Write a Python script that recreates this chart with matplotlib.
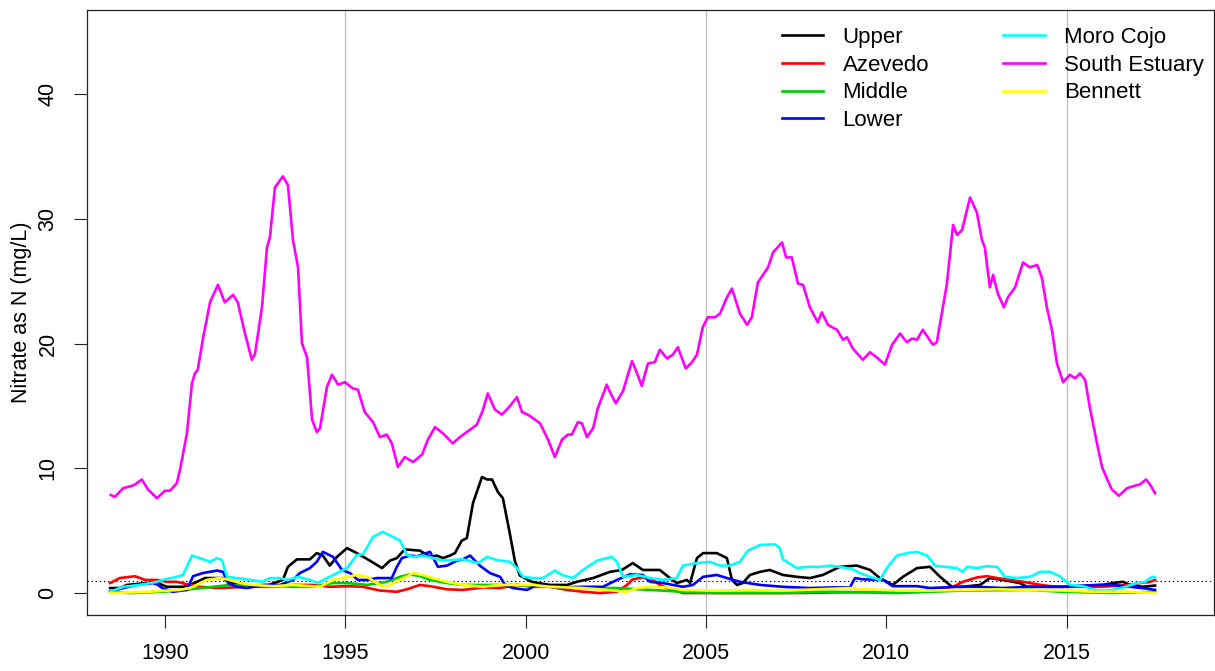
import matplotlib
matplotlib.use("Agg")
from matplotlib import pyplot as plt

plt.rcParams['font.family'] = ['Liberation Sans', 'DejaVu Sans']

# ---- data (year, nitrate mg/L) ----
upper_yr = [1988.48, 1988.75, 1988.95, 1989.50, 1989.78, 1989.92, 1990.06, 1990.50, 1990.69, 1990.89,
            1991.11, 1991.61, 1991.80, 1992.27, 1992.83, 1993.27, 1993.41, 1993.66, 1994.02, 1994.21,
            1994.38, 1994.57, 1994.77, 1995.05, 1995.32, 1995.68, 1996.02, 1996.24, 1996.43, 1996.65,
            1997.07, 1997.35, 1997.54, 1997.71, 1997.90, 1998.04, 1998.23, 1998.37, 1998.54, 1998.79,
            1998.93, 1999.07, 1999.23, 1999.37, 1999.56, 1999.70, 1999.84, 2000.17, 2000.67, 2001.15,
            2001.42, 2001.87, 2002.34, 2002.67, 2002.97, 2003.25, 2003.72, 2004.00, 2004.19, 2004.47,
            2004.56, 2004.75, 2004.92, 2005.30, 2005.58, 2005.72, 2005.86, 2006.02, 2006.22, 2006.50,
            2006.77, 2007.13, 2007.52, 2007.88, 2008.24, 2008.71, 2009.18, 2009.55, 2009.82, 2010.18,
            2010.46, 2010.85, 2011.21, 2011.49, 2011.82, 2012.12, 2012.60, 2012.87, 2013.23, 2013.70,
            2013.90, 2014.34, 2014.90, 2016.01, 2016.28, 2016.56, 2016.75, 2017.11, 2017.45]
upper = [0.4, 0.4, 0.65, 0.8, 0.9, 0.65, 0.5, 0.5, 0.65, 0.9,
         1.2, 1.2, 0.8, 0.6, 0.6, 1.05, 2.1, 2.7, 2.7, 3.2,
         3.0, 2.2, 2.9, 3.6, 3.2, 2.6, 2.0, 2.6, 2.8, 3.5,
         3.4, 2.9, 3.0, 2.8, 3.0, 3.2, 4.2, 4.4, 7.2, 9.3,
         9.1, 9.1, 8.1, 7.6, 4.8, 2.6, 1.4, 0.9, 0.65, 0.65,
         0.9, 1.2, 1.7, 1.85, 2.4, 1.85, 1.85, 1.2, 0.8, 1.05,
         0.8, 2.8, 3.2, 3.2, 2.8, 1.05, 0.65, 0.8, 1.45, 1.7,
         1.85, 1.45, 1.3, 1.2, 1.45, 2.1, 2.2, 1.85, 1.2, 0.65,
         1.3, 2.0, 2.1, 1.3, 0.5, 0.5, 0.65, 1.2, 1.05, 0.8,
         0.5, 0.5, 0.5, 0.65, 0.8, 0.9, 0.65, 0.5, 0.6]

azevedo_yr = [1988.48, 1988.75, 1989.17, 1989.45, 1989.78, 1990.06, 1990.33, 1990.69, 1990.97, 1991.52,
              1992.27, 1992.99, 1993.55, 1994.10, 1994.57, 1995.05, 1995.49, 1995.96, 1996.43, 1996.71,
              1997.07, 1997.35, 1997.82, 1998.26, 1998.82, 1999.29, 1999.76, 2000.20, 2000.67, 2001.15,
              2001.59, 2002.06, 2002.53, 2002.81, 2002.97, 2003.25, 2003.53, 2003.72, 2003.92, 2004.36,
              2004.92, 2005.75, 2006.69, 2007.60, 2008.52, 2009.82, 2010.93, 2011.85, 2012.12, 2012.51,
              2012.79, 2013.07, 2013.43, 2013.79, 2014.18, 2014.54, 2014.90, 2015.84, 2016.28, 2016.75,
              2017.03, 2017.31, 2017.45]
azevedo = [0.8, 1.2, 1.35, 1.05, 1.05, 0.9, 0.9, 0.65, 0.5, 0.4,
           0.5, 0.5, 0.65, 0.65, 0.5, 0.55, 0.5, 0.2, 0.1, 0.3,
           0.65, 0.55, 0.3, 0.25, 0.45, 0.4, 0.65, 0.5, 0.5, 0.25,
           0.1, 0.0, 0.1, 0.65, 1.1, 1.25, 1.05, 0.65, 0.4, 0.0,
           0.0, 0.0, 0.0, 0.0, 0.05, 0.1, 0.1, 0.5, 0.9, 1.25,
           1.35, 1.2, 1.05, 0.9, 0.7, 0.55, 0.5, 0.5, 0.55, 0.65,
           0.8, 0.9, 1.05]

middle_yr = [1988.48, 1989.03, 1989.94, 1990.69, 1991.33, 1991.80, 1992.27, 1992.83, 1993.55, 1994.10,
             1994.66, 1995.05, 1995.60, 1996.15, 1996.52, 1996.79, 1997.07, 1997.35, 1997.82, 1998.26,
             1998.82, 1999.76, 2000.67, 2001.59, 2002.53, 2003.45, 2004.36, 2005.30, 2006.22, 2007.13,
             2008.08, 2008.44, 2010.29, 2012.12, 2013.98, 2014.90, 2016.28, 2017.45]
middle = [0.1, 0.0, 0.1, 0.3, 0.5, 0.65, 0.55, 0.65, 0.5, 0.5,
          0.8, 0.8, 0.65, 0.9, 1.3, 1.5, 1.35, 1.05, 0.8, 0.65,
          0.65, 0.65, 0.5, 0.4, 0.4, 0.25, 0.1, 0.0, 0.0, 0.0,
          0.1, 0.1, 0.0, 0.2, 0.25, 0.1, 0.0, 0.1]

lower_yr = [1988.48, 1988.84, 1989.22, 1989.67, 1989.81, 1989.92, 1990.22, 1990.61, 1990.78, 1991.05,
            1991.44, 1991.61, 1991.75, 1992.00, 1992.27, 1992.72, 1993.19, 1993.55, 1993.74, 1994.02,
            1994.21, 1994.38, 1994.66, 1994.91, 1995.13, 1995.35, 1995.60, 1995.88, 1996.29, 1996.43,
            1996.57, 1996.79, 1996.99, 1997.35, 1997.57, 1997.82, 1998.10, 1998.26, 1998.46, 1998.73,
            1999.01, 1999.29, 1999.43, 1999.65, 2000.04, 2000.31, 2000.67, 2001.03, 2001.59, 2002.14,
            2002.53, 2002.89, 2003.25, 2003.45, 2003.81, 2004.36, 2004.64, 2004.92, 2005.30, 2005.58,
            2005.94, 2006.50, 2007.13, 2007.88, 2008.52, 2008.99, 2009.13, 2009.35, 2009.91, 2010.18,
            2010.85, 2011.21, 2011.96, 2012.51, 2013.23, 2013.98, 2014.90, 2015.84, 2016.28, 2016.75,
            2017.11, 2017.45]
lower = [0.1, 0.4, 0.65, 0.8, 0.65, 0.4, 0.1, 0.25, 1.35, 1.6,
         1.8, 1.7, 0.8, 0.5, 0.4, 0.65, 0.65, 1.05, 1.6, 2.0,
         2.5, 3.3, 2.9, 1.85, 1.6, 1.05, 1.05, 1.2, 1.2, 2.1,
         2.8, 3.0, 2.95, 3.3, 2.1, 2.2, 2.6, 2.7, 3.0, 2.2,
         1.6, 1.3, 0.65, 0.4, 0.25, 0.65, 0.5, 0.45, 0.5, 0.5,
         1.05, 1.5, 1.45, 0.9, 0.8, 0.5, 0.65, 1.3, 1.45, 1.2,
         0.9, 0.65, 0.5, 0.4, 0.45, 0.45, 1.2, 1.1, 1.05, 0.55,
         0.55, 0.4, 0.5, 0.5, 0.4, 0.5, 0.5, 0.65, 0.65, 0.5,
         0.4, 0.25]

moro_yr = [1988.48, 1988.84, 1989.31, 1989.78, 1989.94, 1990.33, 1990.50, 1990.75, 1990.97, 1991.25,
           1991.44, 1991.58, 1991.72, 1992.00, 1992.36, 1992.69, 1992.91, 1993.19, 1993.41, 1993.69,
           1994.02, 1994.24, 1994.49, 1994.77, 1995.05, 1995.32, 1995.49, 1995.77, 1996.04, 1996.32,
           1996.52, 1996.71, 1996.88, 1997.15, 1997.43, 1997.71, 1997.98, 1998.26, 1998.68, 1998.93,
           1999.20, 1999.56, 1999.76, 1999.93, 2000.20, 2000.48, 2000.81, 2001.01, 2001.31, 2001.59,
           2001.98, 2002.25, 2002.39, 2002.53, 2002.70, 2003.09, 2003.45, 2003.81, 2004.19, 2004.36,
           2004.75, 2005.11, 2005.39, 2005.66, 2005.94, 2006.16, 2006.50, 2006.91, 2007.05, 2007.13,
           2007.52, 2007.80, 2008.16, 2008.44, 2008.71, 2009.07, 2009.27, 2009.55, 2009.82, 2010.04,
           2010.29, 2010.57, 2010.85, 2011.13, 2011.35, 2011.62, 2011.96, 2012.12, 2012.23, 2012.51,
           2012.79, 2013.07, 2013.29, 2013.62, 2013.98, 2014.26, 2014.54, 2014.81, 2015.09, 2015.45,
           2015.84, 2016.20, 2016.56, 2016.95, 2017.17, 2017.36, 2017.45]
moro = [0.1, 0.5, 0.65, 0.9, 1.05, 1.3, 1.45, 3.0, 2.8, 2.5,
        2.8, 2.65, 1.3, 1.2, 1.05, 0.9, 1.2, 1.2, 1.05, 1.3,
        1.05, 0.8, 1.2, 1.6, 2.0, 3.05, 3.1, 4.5, 4.9, 4.5,
        4.2, 3.05, 2.9, 3.0, 2.8, 2.6, 2.65, 2.7, 2.4, 2.9,
        2.65, 2.5, 2.0, 1.3, 1.2, 1.2, 1.8, 1.45, 1.2, 1.85,
        2.6, 2.8, 2.9, 2.5, 1.3, 1.45, 1.2, 1.05, 1.2, 2.2,
        2.4, 2.5, 2.2, 2.2, 2.5, 3.4, 3.85, 3.9, 3.6, 2.7,
        2.0, 2.1, 2.1, 2.2, 2.1, 1.9, 1.6, 1.3, 1.05, 2.1,
        3.0, 3.2, 3.3, 3.0, 2.2, 2.1, 2.0, 1.7, 2.1, 2.0,
        2.15, 2.1, 1.3, 1.2, 1.3, 1.7, 1.7, 1.35, 0.65, 0.55,
        0.2, 0.2, 0.45, 0.8, 0.9, 1.3, 1.25]

south_yr = [1988.50, 1988.61, 1988.84, 1989.09, 1989.17, 1989.36, 1989.53, 1989.78, 1990.00, 1990.14,
            1990.33, 1990.42, 1990.61, 1990.75, 1990.83, 1990.91, 1991.05, 1991.25, 1991.47, 1991.66,
            1991.89, 1992.02, 1992.22, 1992.41, 1992.50, 1992.69, 1992.83, 1992.91, 1993.05, 1993.27,
            1993.41, 1993.55, 1993.69, 1993.80, 1993.94, 1994.08, 1994.21, 1994.30, 1994.49, 1994.63,
            1994.80, 1994.99, 1995.21, 1995.35, 1995.54, 1995.77, 1995.96, 1996.15, 1996.29, 1996.46,
            1996.65, 1996.88, 1997.13, 1997.29, 1997.49, 1997.71, 1997.98, 1998.18, 1998.46, 1998.65,
            1998.82, 1998.95, 1999.15, 1999.34, 1999.51, 1999.76, 1999.90, 2000.06, 2000.26, 2000.40,
            2000.62, 2000.81, 2001.01, 2001.17, 2001.28, 2001.45, 2001.56, 2001.70, 2001.87, 2002.00,
            2002.25, 2002.34, 2002.50, 2002.70, 2002.95, 2003.09, 2003.22, 2003.39, 2003.58, 2003.72,
            2003.92, 2004.08, 2004.22, 2004.44, 2004.61, 2004.75, 2004.91, 2005.05, 2005.25, 2005.39,
            2005.58, 2005.72, 2005.94, 2006.14, 2006.27, 2006.44, 2006.72, 2006.86, 2007.11, 2007.22,
            2007.38, 2007.55, 2007.69, 2007.88, 2008.10, 2008.21, 2008.38, 2008.63, 2008.80, 2008.91,
            2009.07, 2009.35, 2009.55, 2009.77, 2009.96, 2010.16, 2010.38, 2010.57, 2010.71, 2010.85,
            2011.01, 2011.29, 2011.40, 2011.68, 2011.85, 2011.96, 2012.10, 2012.32, 2012.51, 2012.65,
            2012.73, 2012.87, 2012.96, 2013.09, 2013.26, 2013.37, 2013.57, 2013.79, 2013.98, 2014.18,
            2014.31, 2014.45, 2014.59, 2014.73, 2014.90, 2015.09, 2015.23, 2015.37, 2015.51, 2015.64,
            2015.84, 2015.98, 2016.11, 2016.25, 2016.45, 2016.67, 2016.89, 2017.03, 2017.20, 2017.31,
            2017.45]
south = [7.86, 7.7, 8.4, 8.6, 8.7, 9.1, 8.3, 7.6, 8.2, 8.2,
         8.8, 9.9, 12.8, 16.8, 17.6, 17.9, 20.3, 23.3, 24.7, 23.3,
         23.9, 23.3, 20.8, 18.7, 19.2, 22.9, 27.7, 28.5, 32.5, 33.4,
         32.7, 28.3, 26.1, 20.0, 18.9, 13.9, 12.9, 13.2, 16.5, 17.5,
         16.7, 16.9, 16.4, 16.3, 14.5, 13.7, 12.5, 12.7, 12.0, 10.1,
         10.9, 10.5, 11.1, 12.3, 13.3, 12.8, 12.0, 12.5, 13.1, 13.5,
         14.7, 16.0, 14.7, 14.3, 14.8, 15.7, 14.5, 14.3, 13.9, 13.6,
         12.3, 10.9, 12.3, 12.7, 12.7, 13.7, 13.6, 12.5, 13.2, 14.8,
         16.7, 16.1, 15.2, 16.2, 18.6, 17.6, 16.6, 18.4, 18.5, 19.5,
         18.8, 19.1, 19.7, 18.0, 18.5, 19.1, 21.3, 22.1, 22.1, 22.4,
         23.7, 24.4, 22.4, 21.5, 22.1, 24.9, 26.1, 27.3, 28.1, 26.9,
         26.9, 24.8, 24.7, 22.9, 21.7, 22.5, 21.5, 21.1, 20.3, 20.5,
         19.6, 18.7, 19.3, 18.8, 18.3, 19.9, 20.8, 20.1, 20.4, 20.3,
         21.1, 19.9, 20.1, 24.8, 29.5, 28.7, 29.1, 31.7, 30.5, 28.3,
         27.7, 24.5, 25.5, 24.0, 22.9, 23.7, 24.5, 26.5, 26.1, 26.3,
         25.3, 22.9, 21.1, 18.4, 16.9, 17.5, 17.2, 17.6, 17.1, 14.9,
         12.0, 10.1, 9.2, 8.3, 7.8, 8.4, 8.6, 8.7, 9.1, 8.7,
         8.0]

bennett_yr = [1988.48, 1989.50, 1990.42, 1990.69, 1990.89, 1991.16, 1991.52, 1991.80, 1992.08, 1992.44,
              1992.99, 1993.55, 1994.30, 1994.66, 1995.05, 1995.32, 1995.60, 1995.96, 1996.15, 1996.52,
              1996.88, 1997.15, 1997.43, 1997.82, 1998.26, 1998.82, 1999.29, 2000.20, 2000.67, 2001.59,
              2002.06, 2002.81, 2003.09, 2003.45, 2003.92, 2004.36, 2005.30, 2006.22, 2007.13, 2008.08,
              2008.99, 2009.35, 2010.29, 2011.21, 2012.12, 2013.07, 2013.98, 2014.90, 2015.84, 2016.75,
              2017.45]
bennett = [0.0, 0.1, 0.25, 0.4, 0.65, 1.05, 1.2, 1.05, 0.8, 0.65,
           0.55, 0.65, 0.5, 1.05, 1.3, 1.45, 1.3, 0.65, 0.5, 1.05,
           1.6, 1.45, 1.2, 0.9, 0.65, 0.5, 0.65, 0.65, 0.5, 0.4,
           0.3, 0.1, 0.4, 0.5, 0.45, 0.25, 0.2, 0.25, 0.2, 0.3,
           0.4, 0.3, 0.2, 0.2, 0.25, 0.3, 0.25, 0.2, 0.1, 0.1,
           0.0]

names = ["Upper", "Azevedo", "Middle", "Lower", "Moro Cojo", "South Estuary", "Bennett"]
colors = ["black", "#FF0000", "#00CD00", "#0000FF", "#00FFFF", "#FF00FF", "#FFFF00"]
series = [(upper_yr, upper), (azevedo_yr, azevedo), (middle_yr, middle), (lower_yr, lower),
          (moro_yr, moro), (south_yr, south), (bennett_yr, bennett)]

W, H = 1215, 671
fig = plt.figure(figsize=(W / 100, H / 100), dpi=100)
ax = fig.add_axes([87 / W, (H - 615) / H, (1213.5 - 87) / W, (615 - 9.5) / H])

for yr in [1995, 2005, 2015]:
    ax.axvline(yr, color="#BEBEBE", lw=0.9, zorder=1)
ax.axhline(1, color="black", lw=0.8, ls=(0, (1.2, 2.5)), zorder=1)

for (x, y), name, c in zip(series, names, colors):
    ax.plot(x, y, color=c, lw=1.9, label=name, zorder=2)

ax.set_xlim(1987.84, 2019.07)
ax.set_ylim(-1.76, 46.77)
ax.set_xticks([1990, 1995, 2000, 2005, 2010, 2015])
ax.set_yticks([0, 10, 20, 30, 40])

for s in ax.spines.values():
    s.set_linewidth(0.9)
    s.set_color("#222222")
ax.tick_params(axis="both", length=9.5, width=0.8, color="#222222", labelsize=15.5)
ax.tick_params(axis="x", pad=11)
ax.tick_params(axis="y", pad=11, labelrotation=90)
for lab in ax.get_yticklabels():
    lab.set_va("center")

ax.set_ylabel("Nitrate as N (mg/L)", fontsize=15.5)
ax.yaxis.set_label_coords(-0.049, 0.5)

ax.legend(loc="upper left", bbox_to_anchor=(0.617, 0.971), ncol=2, frameon=False,
          fontsize=16, handlelength=1.85, handletextpad=0.87, columnspacing=3.35,
          labelspacing=0.3, borderpad=0, borderaxespad=0)

fig.savefig("out.png", dpi=100)
